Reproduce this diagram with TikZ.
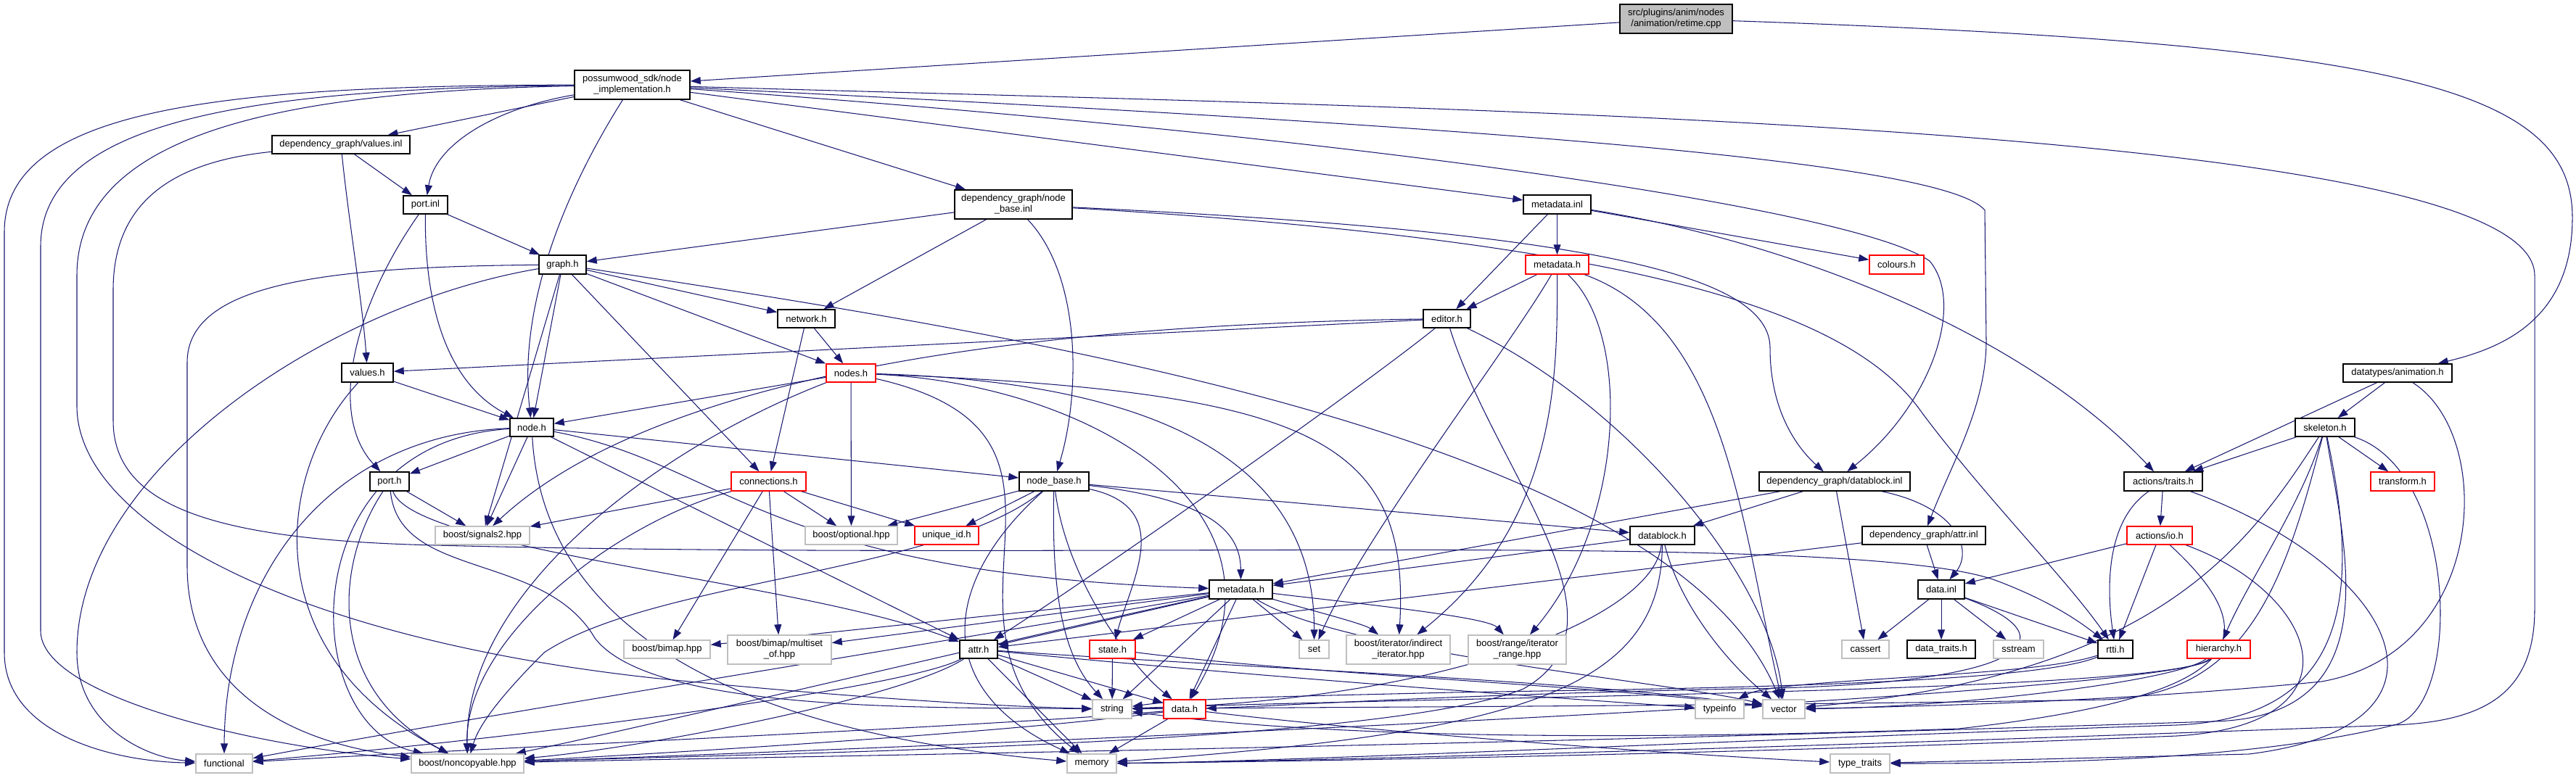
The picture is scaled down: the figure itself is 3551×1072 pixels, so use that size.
\documentclass[tikz,border=0pt]{standalone}
\usepackage{fontspec}
\newfontfamily\dfont{Liberation Sans}
\usetikzlibrary{arrows.meta}
\definecolor{edgeblue}{RGB}{25,25,112}
\definecolor{lgrey}{RGB}{191,191,191}
\pgfdeclarelayer{edgelayer}
\pgfsetlayers{edgelayer,main}
\tikzset{
  bx/.style={draw, line width=1.5pt, inner sep=0pt, align=center, font=\dfont\fontsize{13}{15}\selectfont, fill=white},
  bblack/.style={bx, draw=black},
  bred/.style={bx, draw=red},
  bgray/.style={bx, draw=lgrey},
  bgrey/.style={bx, draw=black, fill=lgrey},
  e/.style={draw=edgeblue, line width=1.05pt, -{Triangle[length=14pt,width=10pt]}}
}
\newcommand\bx[7]{\node[#6, minimum width={(#4)-(#2)}, minimum height={(#5)-(#3)}] (#1) at ({((#2)+(#4))/2},{((#3)+(#5))/2}) {#7};}
\begin{document}
\begin{tikzpicture}[x=1pt,y=-1pt]
\useasboundingbox (0,0) rectangle (3551,1072);
% nodes
\bx{cpp}{2233}{6}{2388}{46}{bgrey}{src/plugins/anim/nodes\\/animation/retime.cpp}
\bx{impl}{792}{97}{951}{137}{bblack}{possumwood\_sdk/node\\\_implementation.h}
\bx{valinl}{375}{187}{565}{212}{bblack}{dependency\_graph/values.inl}
\bx{portinl}{556}{270}{617}{295}{bblack}{port.inl}
\bx{graph}{743}{352}{808}{378}{bblack}{graph.h}
\bx{nbinl}{1316}{262}{1478}{302}{bblack}{dependency\_graph/node\\\_base.inl}
\bx{metainl}{2100}{269}{2193}{295}{bblack}{metadata.inl}
\bx{metar}{2103}{352}{2190}{378}{bred}{metadata.h}
\bx{colours}{2577}{352}{2652}{378}{bred}{colours.h}
\bx{editor}{1962}{427}{2027}{452}{bblack}{editor.h}
\bx{network}{1072}{427}{1151}{452}{bblack}{network.h}
\bx{nodes}{1139}{502}{1207}{527}{bred}{nodes.h}
\bx{valh}{471}{501}{542}{527}{bblack}{values.h}
\bx{anim}{3230}{502}{3380}{527}{bblack}{datatypes/animation.h}
\bx{nodeh}{703}{577}{763}{602}{bblack}{node.h}
\bx{skel}{3164}{577}{3246}{602}{bblack}{skeleton.h}
\bx{porth}{510}{651}{564}{677}{bblack}{port.h}
\bx{conn}{1008}{651}{1111}{677}{bred}{connections.h}
\bx{nbh}{1405}{651}{1501}{677}{bblack}{node\_base.h}
\bx{dbinl}{2425}{651}{2633}{677}{bblack}{dependency\_graph/datablock.inl}
\bx{traits}{2928}{651}{3036}{677}{bblack}{actions/traits.h}
\bx{transform}{3268}{651}{3356}{677}{bred}{transform.h}
\bx{sig}{600}{726}{730}{751}{bgray}{boost/signals2.hpp}
\bx{opt}{1110}{726}{1237}{751}{bgray}{boost/optional.hpp}
\bx{uid}{1261}{726}{1349}{751}{bred}{unique\_id.h}
\bx{dbh}{2247}{726}{2336}{751}{bblack}{datablock.h}
\bx{attrinl}{2567}{726}{2737}{751}{bblack}{dependency\_graph/attr.inl}
\bx{io}{2932}{726}{3022}{751}{bred}{actions/io.h}
\bx{meta}{1667}{800}{1754}{826}{bblack}{metadata.h}
\bx{datainl}{2644}{800}{2708}{826}{bblack}{data.inl}
\bx{bimap}{860}{883}{979}{908}{bgray}{boost/bimap.hpp}
\bx{mset}{1003}{876}{1146}{916}{bgray}{boost/bimap/multiset\\\_of.hpp}
\bx{attr}{1323}{883}{1375}{908}{bblack}{attr.h}
\bx{state}{1502}{883}{1565}{908}{bred}{state.h}
\bx{set}{1791}{883}{1832}{908}{bgray}{set}
\bx{indir}{1856}{876}{1999}{916}{bgray}{boost/iterator/indirect\\\_iterator.hpp}
\bx{range}{2024}{876}{2159}{916}{bgray}{boost/range/iterator\\\_range.hpp}
\bx{cassert}{2539}{883}{2604}{908}{bgray}{cassert}
\bx{dtraits}{2629}{883}{2723}{908}{bblack}{data\_traits.h}
\bx{sstream}{2748}{883}{2817}{908}{bgray}{sstream}
\bx{rtti}{2892}{883}{2940}{908}{bblack}{rtti.h}
\bx{hier}{3015}{883}{3102}{908}{bred}{hierarchy.h}
\bx{string}{1506}{965}{1560}{991}{bgray}{string}
\bx{data}{1604}{965}{1662}{991}{bred}{data.h}
\bx{typeinfo}{2337}{965}{2404}{991}{bgray}{typeinfo}
\bx{vector}{2430}{965}{2488}{991}{bgray}{vector}
\bx{functional}{270}{1040}{348}{1066}{bgray}{functional}
\bx{noncopy}{567}{1040}{722}{1066}{bgray}{boost/noncopyable.hpp}
\bx{memory}{1471}{1040}{1539}{1066}{bgray}{memory}
\bx{ttraits}{2523}{1040}{2605}{1066}{bgray}{type\_traits}
% edges
\begin{pgfonlayer}{edgelayer}
\draw[e] (cpp) -- (impl);
\draw[e] (cpp) .. controls (3300,60) and (3546,120) .. (3546,300) .. controls (3546,440) and (3450,480) .. (anim);
\draw[e] (impl) -- (valinl);
\draw[e] (impl) .. controls (680,150) and (600,200) .. (portinl);
\draw[e] (impl) .. controls (800,230) and (712,400) .. (nodeh);
\draw[e] (impl) -- (nbinl);
\draw[e] (impl) -- (metainl);
\draw[e] (impl) .. controls (1900,190) and (2560,290) .. (2660,360) .. controls (2710,420) and (2660,560) .. (dbinl);
\draw[e] (impl) .. controls (2000,172) and (2680,220) .. (2736,290) -- (2738,470) .. controls (2738,560) and (2690,640) .. (attrinl);
\draw[e] (impl) .. controls (300,118) and (6,150) .. (6,320) -- (6,900) .. controls (6,1010) and (150,1050) .. (functional);
\draw[e] (impl) .. controls (350,122) and (56,165) .. (56,340) -- (56,870) .. controls (56,960) and (350,1030) .. (noncopy);
\draw[e] (impl) .. controls (400,126) and (106,180) .. (106,380) -- (106,560) .. controls (106,720) and (400,880) .. (900,935) .. controls (1200,965) and (1400,975) .. (string);
\draw[e] (impl) .. controls (2000,150) and (3494,170) .. (3494,380) -- (3494,840) .. controls (3494,960) and (3420,995) .. (3300,1000) .. controls (2500,1030) and (1800,1050) .. (memory);
\draw[e] (valinl) -- (portinl);
\draw[e] (valinl) .. controls (480,300) and (500,420) .. (valh);
\draw[e] (valinl) .. controls (250,222) and (156,270) .. (156,400) -- (156,580) .. controls (156,700) and (300,745) .. (600,752) .. controls (1500,775) and (2550,730) .. (2750,800) .. controls (2830,830) and (2870,860) .. (rtti);
\draw[e] (portinl) -- (graph);
\draw[e] (portinl) .. controls (490,420) and (450,570) .. (porth);
\draw[e] (portinl) .. controls (585,430) and (620,530) .. (nodeh);
\draw[e] (graph) -- (nodeh);
\draw[e] (graph) -- (network);
\draw[e] (graph) -- (nodes);
\draw[e] (graph) -- (conn);
\draw[e] (graph) -- (sig);
\draw[e] (graph) .. controls (450,420) and (106,650) .. (106,900) .. controls (106,1000) and (200,1045) .. (functional);
\draw[e] (graph) .. controls (450,368) and (258,390) .. (258,500) -- (258,780) .. controls (258,950) and (400,1025) .. (noncopy);
\draw[e] (graph) .. controls (1400,460) and (2300,600) .. (vector);
\draw[e] (nbinl) -- (graph);
\draw[e] (nbinl) -- (network);
\draw[e] (nbinl) .. controls (1490,380) and (1490,540) .. (nbh);
\draw[e] (nbinl) .. controls (2200,320) and (2440,380) .. (2440,480) .. controls (2440,570) and (2480,620) .. (dbinl);
\draw[e] (nbinl) .. controls (2300,335) and (2560,440) .. (2650,570) .. controls (2740,690) and (2850,800) .. (rtti);
\draw[e] (metainl) -- (editor);
\draw[e] (metainl) -- (metar);
\draw[e] (metainl) -- (colours);
\draw[e] (metainl) .. controls (2450,330) and (2780,450) .. (traits);
\draw[e] (metar) -- (editor);
\draw[e] (metar) .. controls (2080,480) and (1880,740) .. (set);
\draw[e] (metar) .. controls (2147,520) and (2147,720) .. (indir);
\draw[e] (metar) .. controls (2250,460) and (2240,720) .. (range);
\draw[e] (metar) .. controls (2380,450) and (2400,720) .. (vector);
\draw[e] (editor) -- (valh);
\draw[e] (editor) .. controls (1400,448) and (900,520) .. (sig);
\draw[e] (editor) .. controls (1870,540) and (1500,800) .. (attr);
\draw[e] (editor) .. controls (2060,650) and (2260,860) .. (2100,950) .. controls (1900,1030) and (1000,1040) .. (noncopy);
\draw[e] (editor) .. controls (2250,560) and (2440,800) .. (vector);
\draw[e] (network) -- (nodes);
\draw[e] (network) -- (conn);
\draw[e] (nodes) -- (nodeh);
\draw[e] (nodes) -- (opt);
\draw[e] (nodes) .. controls (900,620) and (640,820) .. (noncopy);
\draw[e] (nodes) .. controls (1800,540) and (1945,600) .. (indir);
\draw[e] (nodes) .. controls (1700,530) and (1812,700) .. (set);
\draw[e] (nodes) .. controls (1500,530) and (1800,700) .. (data);
\draw[e] (nodes) .. controls (1550,600) and (1250,850) .. (memory);
\draw[e] (valh) -- (nodeh);
\draw[e] (valh) .. controls (380,650) and (350,900) .. (noncopy);
\draw[e] (nodeh) -- (porth);
\draw[e] (nodeh) -- (sig);
\draw[e] (nodeh) .. controls (450,600) and (310,800) .. (functional);
\draw[e] (nodeh) .. controls (400,610) and (410,1000) .. (noncopy);
\draw[e] (nodeh) -- (nbh);
\draw[e] (nodeh) -- (attr);
\draw[e] (nodeh) .. controls (1000,640) and (1050,790) .. (meta);
\draw[e] (nodeh) .. controls (745,800) and (900,1000) .. (memory);
\draw[e] (porth) -- (sig);
\draw[e] (porth) .. controls (460,780) and (450,950) .. (noncopy);
\draw[e] (porth) .. controls (570,760) and (1100,800) .. (attr);
\draw[e] (porth) .. controls (550,800) and (750,760) .. (820,880) .. controls (900,985) and (1300,975) .. (string);
\draw[e] (conn) -- (sig);
\draw[e] (conn) .. controls (850,720) and (640,880) .. (noncopy);
\draw[e] (conn) -- (opt);
\draw[e] (conn) -- (uid);
\draw[e] (conn) -- (bimap);
\draw[e] (conn) -- (mset);
\draw[e] (nbh) -- (opt);
\draw[e] (nbh) -- (uid);
\draw[e] (nbh) .. controls (1680,690) and (1710,740) .. (meta);
\draw[e] (nbh) .. controls (1620,700) and (1560,800) .. (state);
\draw[e] (nbh) -- (dbh);
\draw[e] (nbh) .. controls (1450,800) and (1460,900) .. (string);
\draw[e] (nbh) .. controls (1470,800) and (1560,920) .. (data);
\draw[e] (nbh) .. controls (1300,800) and (1280,950) .. (memory);
\draw[e] (nbh) .. controls (1300,790) and (900,800) .. (750,900) .. controls (690,960) and (660,1000) .. (noncopy);
\draw[e] (dbinl) -- (dbh);
\draw[e] (dbinl) -- (meta);
\draw[e] (dbinl) -- (cassert);
\draw[e] (dbinl) .. controls (2700,700) and (2720,760) .. (datainl);
\draw[e] (dbh) -- (meta);
\draw[e] (dbh) .. controls (2320,850) and (2400,930) .. (vector);
\draw[e] (dbh) .. controls (2280,850) and (2000,965) .. (string);
\draw[e] (dbh) .. controls (2290,950) and (2100,1010) .. (memory);
\draw[e] (attrinl) -- (datainl);
\draw[e] (attrinl) -- (attr);
\draw[e] (datainl) -- (cassert);
\draw[e] (datainl) -- (dtraits);
\draw[e] (datainl) -- (sstream);
\draw[e] (datainl) -- (rtti);
\draw[e] (datainl) .. controls (2860,880) and (2800,945) .. (2400,950) .. controls (2000,958) and (1800,972) .. (data);
\draw[e] (io) -- (datainl);
\draw[e] (io) -- (rtti);
\draw[e] (io) .. controls (3130,880) and (3100,960) .. (2700,1005) .. controls (2000,1030) and (1700,1000) .. (string);
\draw[e] (io) .. controls (3200,820) and (3260,1000) .. (3000,1015) .. controls (2400,1040) and (1800,1050) .. (memory);
\draw[e] (traits) -- (io);
\draw[e] (traits) .. controls (2900,720) and (2905,820) .. (rtti);
\draw[e] (traits) .. controls (3300,780) and (3420,1000) .. (3100,1040) -- (ttraits);
\draw[e] (hier) .. controls (3000,940) and (2700,975) .. (vector);
\draw[e] (hier) .. controls (3000,955) and (2000,960) .. (string);
\draw[e] (hier) .. controls (3000,965) and (1000,1040) .. (noncopy);
\draw[e] (skel) -- (traits);
\draw[e] (skel) -- (transform);
\draw[e] (skel) .. controls (3170,700) and (3100,800) .. (hier);
\draw[e] (skel) .. controls (3100,750) and (2980,930) .. (vector);
\draw[e] (skel) .. controls (3150,800) and (3100,960) .. (2900,965) .. controls (2300,975) and (1800,975) .. (string);
\draw[e] (skel) .. controls (3250,800) and (3250,990) .. (3000,1000) .. controls (2400,1020) and (1800,1050) .. (memory);
\draw[e] (skel) .. controls (3230,750) and (3300,990) .. (3050,995) .. controls (2000,1030) and (1000,1045) .. (noncopy);
\draw[e] (skel) .. controls (3390,650) and (3395,980) .. (3300,1000) .. controls (3100,1050) and (2800,1053) .. (ttraits);
\draw[e] (anim) -- (traits);
\draw[e] (anim) -- (skel);
\draw[e] (anim) .. controls (3440,600) and (3430,900) .. (3200,940) .. controls (2900,970) and (2600,975) .. (vector);
\draw[e] (meta) -- (bimap);
\draw[e] (meta) -- (mset);
\draw[e] (meta) -- (attr);
\draw[e] (meta) -- (state);
\draw[e] (meta) -- (string);
\draw[e] (meta) -- (data);
\draw[e] (meta) -- (set);
\draw[e] (meta) .. controls (1800,840) and (1880,860) .. (indir);
\draw[e] (meta) .. controls (1850,830) and (2050,850) .. (range);
\draw[e] (meta) .. controls (1850,900) and (2300,940) .. (vector);
\draw[e] (meta) .. controls (1400,870) and (700,980) .. (functional);
\draw[e] (meta) .. controls (1400,880) and (900,1000) .. (noncopy);
\draw[e] (attr) -- (string);
\draw[e] (attr) -- (data);
\draw[e] (attr) -- (memory);
\draw[e] (attr) .. controls (1700,930) and (2100,960) .. (typeinfo);
\draw[e] (attr) .. controls (1700,920) and (2200,940) .. (vector);
\draw[e] (attr) .. controls (1250,950) and (700,1020) .. (functional);
\draw[e] (attr) .. controls (1250,960) and (900,1030) .. (noncopy);
\draw[e] (state) -- (string);
\draw[e] (state) .. controls (1800,930) and (2200,945) .. (vector);
\draw[e] (data) -- (memory);
\draw[e] (data) .. controls (1900,1010) and (2300,1040) .. (ttraits);
\draw[e] (data) .. controls (1400,1010) and (900,1040) .. (noncopy);
\draw[e] (data) .. controls (1400,1000) and (700,1030) .. (functional);
\draw[e] (rtti) .. controls (2800,935) and (2450,935) .. (typeinfo);
\draw[e] (rtti) .. controls (2800,945) and (2300,950) .. (2000,955) .. controls (1800,960) and (1650,962) .. (string);
\end{pgfonlayer}
\end{tikzpicture}
\end{document}
